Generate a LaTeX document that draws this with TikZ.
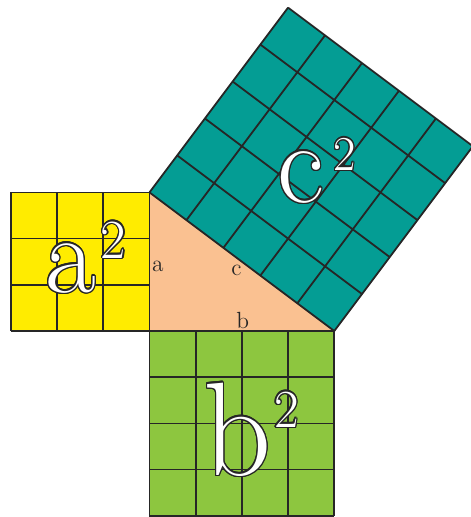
\documentclass[tikz,border=0pt]{standalone}
\usepackage{tikz}
\usepackage{contour}
\usetikzlibrary{calc,positioning}
\usepackage{xcolor}

\definecolor{quadA}{RGB}{255,236,0}
\definecolor{quadB}{RGB}{141,198,63}
\definecolor{quadC}{RGB}{4,157,148}
\definecolor{triang}{RGB}{250,193,145}
\definecolor{linea}{RGB}{38,38,38}
\contourlength{0.8pt}

% lettera grande con esponente 2
\newcommand{\sqlab}[5]{%
  \contour{linea}{\fontsize{#1}{#1}\selectfont #2}\kern#5%
  \raisebox{#4}{\contour{linea}{\fontsize{#3}{#3}\selectfont 2}}}

\begin{document}
\begin{tikzpicture}[line join=round,
  griglia/.style={draw=linea, line width=1.1pt},
  bigtext/.style={text=white, inner sep=0pt, anchor=base west},
  small/.style={font=\Large, text=linea, inner sep=0pt, anchor=base}]

\useasboundingbox (-3.236,-4.026) rectangle (6.959,7.165);
\clip (-3.236,-4.026) rectangle (6.959,7.165);

% vertici del triangolo
\coordinate (C) at (0,0);
\coordinate (A) at (0,3);
\coordinate (B) at (4,0);

% triangolo
\fill[triang] (C) -- (A) -- (B) -- cycle;

% quadrato a^2
\fill[quadA] (-3,0) rectangle (A);
\draw[griglia] (-3,0) grid (A);

% quadrato b^2
\fill[quadB] (0,-4) rectangle (B);
\draw[griglia] (0,-4) grid (B);

% quadrato c^2 sull'ipotenusa
\fill[quadC] (A) -- (B) -- ($(B)+(3,4)$) -- ($(A)+(3,4)$) -- cycle;
\begin{scope}[shift={(A)}, rotate=-36.8699]
  \draw[griglia] (0,0) grid (5,5);
\end{scope}

% etichette grandi
\node[bigtext] (labA) at (-2.26,0.84) {\sqlab{68}{a}{34}{0.74cm}{0.10cm}};
\node[bigtext] (labB) at (1.16,-3.12) {\sqlab{82}{b}{33}{1.04cm}{0.06cm}};
\node[bigtext] (labC) at (2.76,2.79)  {\sqlab{71}{c}{30}{0.69cm}{0.20cm}};

% etichette dei lati
\node[small] (la) at (0.18,1.28)  {a};
\node[small] (lc) at (1.88,1.21)  {c};
\node[small] (lb) at (2.02,0.065) {b};

\end{tikzpicture}
\end{document}
